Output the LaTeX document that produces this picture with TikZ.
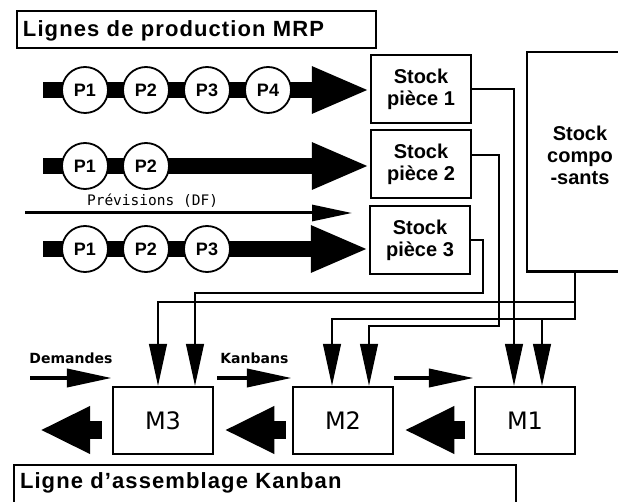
\documentclass[tikz,border=0pt]{standalone}
\usepackage{fontspec}
\setmainfont{Liberation Sans}
\newfontfamily\dvsans{DejaVu Sans}
\newfontfamily\dvmono{DejaVu Sans Mono}
\usetikzlibrary{arrows.meta}

\begin{document}
\begin{tikzpicture}[x=1pt,y=-1pt,
    titlebox/.style={draw,line width=2pt,anchor=north west,inner xsep=6pt,inner ysep=7pt,align=left,
        font=\fontsize{22}{26}\selectfont\bfseries\addfontfeatures{LetterSpace=5}},
    stockbox/.style={draw,line width=2.5pt,minimum width=100pt,minimum height=68pt,inner sep=0pt,
        align=center,font=\fontsize{20}{22}\selectfont\bfseries},
    machine/.style={draw,line width=2.5pt,minimum width=100pt,minimum height=67pt,inner sep=0pt,
        font=\dvsans\fontsize{24}{28}\selectfont},
    proc/.style={circle,draw,line width=1.8pt,fill=white,minimum size=46pt,inner sep=0pt,
        font=\fontsize{18}{20}\selectfont\bfseries},
    mrpflow/.style={line width=16pt,-{Triangle[length=58pt,width=43pt]}},
    prevflow/.style={line width=3pt,-{Triangle[length=40pt,width=16pt]}},
    feed/.style={line width=1.2pt,-{Triangle[length=42pt,width=18pt]}},
    kflow/.style={line width=4pt,-{Triangle[length=45pt,width=18pt]}},
    backflow/.style={line width=18pt,-{Triangle[length=50pt,width=44pt]}},
    smalllbl/.style={font=\dvsans\fontsize{14}{16}\selectfont\bfseries}]
    \useasboundingbox (0,0) rectangle (618,502);
    \clip (0,0) rectangle (618,502);

    \node[titlebox,text width=347pt,text height=19pt,text depth=4pt] (mrp) at (16,10) {Lignes de production MRP};
    \node[titlebox,text width=490pt,text height=16pt,text depth=25pt] (kanban) at (13,464) {Ligne d'assemblage Kanban};

    \node[stockbox] (s1) at (421,89) {Stock\\pièce 1};
    \node[stockbox] (s2) at (421,164) {Stock\\pièce 2};
    \node[stockbox] (s3) at (420,240) {Stock\\pièce 3};
    % le stock composants sort du cadre a droite
    \node[stockbox,draw=none,minimum width=104pt,minimum height=217pt] (sc) at (580,162) {};
    \draw[line width=2.5pt] ([xshift=40pt]sc.north east) -- (sc.north west) -- (sc.south west) -- ([xshift=40pt]sc.south east);
    \node[align=center,font=\fontsize{20}{22}\selectfont\bfseries] (sclbl) at (580,155) {Stock\\compo\\-sants};

    \node[machine] (m3) at (163,420.5) {M3};
    \node[machine] (m2) at (343,420.5) {M2};
    \node[machine] (m1) at (525,420.5) {M1};

    \coordinate (r1) at (43,90);
    \coordinate (r2) at (43,166);
    \coordinate (r3) at (43,249);
    \draw[mrpflow] (r1) -- (r1 -| s1.west);
    \draw[mrpflow] (r2) -- (r2 -| s2.west);
    \draw[mrpflow] (r3) -- (r3 -| s3.west);

    \node[proc] (a1) at (85,90) {P1};
    \node[proc] (a2) at (146,90) {P2};
    \node[proc] (a3) at (207,90) {P3};
    \node[proc] (a4) at (268,90) {P4};
    \node[proc] (b1) at (85,166) {P1};
    \node[proc] (b2) at (146,166) {P2};
    \node[proc] (c1) at (85,249) {P1};
    \node[proc] (c2) at (146,249) {P2};
    \node[proc] (c3) at (207,249) {P3};

    \coordinate (pv0) at (25,213);
    \coordinate (pv1) at (352,213);
    \draw[prevflow] (pv0) -- (pv1) node[pos=0.39,above=1pt,font=\dvmono\fontsize{14.5}{16}\selectfont] (pvlbl) {Prévisions (DF)};

    % stocks vers machines
    \coordinate (bus1) at (575,302);
    \coordinate (bus2) at (575,319);
    \coordinate (sc0) at (bus1 |- sc.south);
    \draw[feed] (s1.east) -| ([xshift=-11pt]m1.north);
    \draw[feed] ([yshift=9pt]s2.east) -| (499,326) -| ([xshift=26pt]m2.north);
    \draw[feed] (s3.east) -| (483,293) -| ([xshift=32pt]m3.north);
    \draw[feed] (sc0) -- (bus1) -| ([xshift=-5pt]m3.north);
    \draw[feed] (bus1) -- (bus2) -| ([xshift=-11pt]m2.north);
    \draw[feed] (bus2) -| ([xshift=17pt]m1.north);

    % kanbans
    \coordinate (dm) at (30,378);
    \coordinate (kb) at (217,378);
    \draw[kflow] (dm) -- (dm -| m3.west) node[midway,above=9pt,smalllbl] (dmlbl) {Demandes};
    \draw[kflow] (kb) -- (kb -| m2.west) node[midway,above=9pt,smalllbl] (kblbl) {Kanbans};
    \draw[kflow] (m2.east |- kb) -- (m1.west |- kb);

    \coordinate (out) at (40,430);
    \draw[backflow] ([shift={(-10pt,-9.5pt)}]m3.west) -- (out);
    \draw[backflow] ([shift={(-6pt,-9.5pt)}]m2.west) -- ([shift={(10pt,-9.5pt)}]m3.east);
    \draw[backflow] ([shift={(-9pt,-9.5pt)}]m1.west) -- ([shift={(10pt,-9.5pt)}]m2.east);
\end{tikzpicture}
\end{document}
